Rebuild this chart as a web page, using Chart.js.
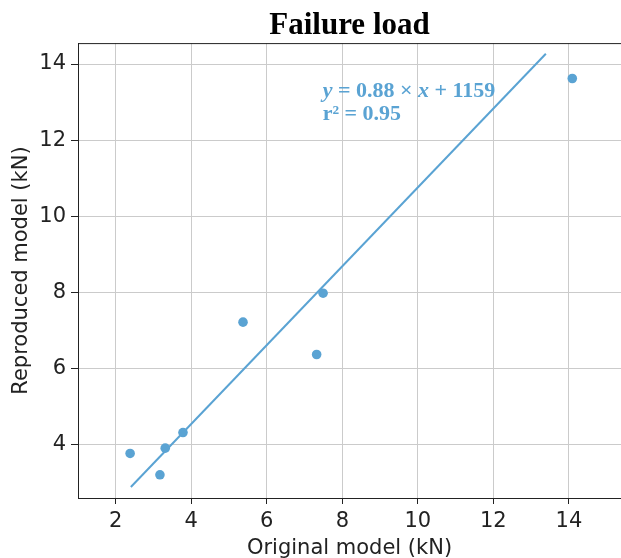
<!DOCTYPE html>
<html>
<head>
<meta charset="utf-8">
<script src="https://cdn.jsdelivr.net/npm/chart.js@4/dist/chart.umd.min.js"></script>
<style>
  html, body { margin: 0; padding: 0; background: #fff; }
  #wrap { width: 621px; height: 558px; }
</style>
</head>
<body>
<div id="wrap"><canvas id="myChart"></canvas></div>
<script>
// measured points (kN)
var originalModel = [2.38, 3.17, 3.31, 3.78, 5.37, 7.32, 7.49, 14.09];
var reproducedModel = [3.77, 3.21, 3.91, 4.32, 7.22, 6.37, 7.98, 13.62];

// fitted line end points
var fitX = [2.40, 13.39];
var fitY = [2.89, 14.27];

var xTicks = [2, 4, 6, 8, 10, 12, 14];
var yTicks = [4, 6, 8, 10, 12, 14];

var eqLine1 = [['y', 'italic'], [' = 0.88 × ', ''], ['x', 'italic'], [' + 1159', '']];
var eqLine2 = [['r² = 0.95', '']];

var blue = '#5aa3d3';

var scatterPoints = originalModel.map(function (x, i) { return { x: x, y: reproducedModel[i] }; });
var fitPoints = fitX.map(function (x, i) { return { x: x, y: fitY[i] }; });

// top edge of the frame (chart.js only draws the axis borders)
var framePlugin = {
    id: 'frame',
    afterDraw: function (chart) {
        var a = chart.chartArea, ctx = chart.ctx;
        ctx.save();
        ctx.strokeStyle = '#222';
        ctx.lineWidth = 1;
        ctx.beginPath();
        ctx.moveTo(a.left, a.top + 0.5);
        ctx.lineTo(a.right + 5, a.top + 0.5);
        ctx.stroke();
        ctx.restore();
    }
};

// regression text
var eqPlugin = {
    id: 'eq',
    afterDatasetsDraw: function (chart) {
        var ctx = chart.ctx;
        var sx = chart.scales.x, sy = chart.scales.y;
        var left = sx.getPixelForValue(7.48);
        function drawRuns(runs, baseY) {
            var px = left;
            runs.forEach(function (r) {
                ctx.font = (r[1] ? r[1] + ' ' : '') + 'bold 22px "Liberation Serif", serif';
                ctx.fillText(r[0], px, baseY);
                px += ctx.measureText(r[0]).width;
            });
        }
        ctx.save();
        ctx.fillStyle = blue;
        ctx.textBaseline = 'alphabetic';
        drawRuns(eqLine1, sy.getPixelForValue(13.13));
        drawRuns(eqLine2, sy.getPixelForValue(12.53));
        ctx.restore();
    }
};

var ctx = document.getElementById('myChart').getContext('2d');

var myChart = new Chart(ctx, {
    data: {
        datasets: [{
            type: 'line',
            data: fitPoints,
            borderColor: blue,
            borderWidth: 2,
            pointRadius: 0,
            fill: false
        }, {
            type: 'scatter',
            data: scatterPoints,
            backgroundColor: blue,
            borderColor: blue,
            pointRadius: 4.8,
            pointBorderWidth: 0
        }]
    },
    plugins: [framePlugin, eqPlugin],
    options: {
        responsive: true,
        maintainAspectRatio: false,
        animation: false,
        // the right side of the frame sits just past the canvas edge
        layout: { autoPadding: false, padding: { left: 0, right: -3, top: 0, bottom: 0 } },
        plugins: {
            legend: { display: false },
            tooltip: { enabled: false },
            title: {
                display: true,
                text: 'Failure load',
                fullSize: false,
                color: '#000',
                font: { family: '"Liberation Serif", serif', size: 31, weight: 'bold', lineHeight: 1.1 },
                padding: { top: 9, bottom: 0 }
            }
        },
        scales: {
            x: {
                type: 'linear',
                min: 1,
                max: 15.38,
                afterBuildTicks: function (axis) { axis.ticks = xTicks.map(function (v) { return { value: v }; }); },
                afterFit: function (axis) { axis.height = 60; },
                grid: { color: '#cbcbcb', lineWidth: 1, tickColor: '#222', tickLength: 6 },
                border: { display: true, color: '#222' },
                ticks: { color: '#222', padding: 5, font: { family: '"DejaVu Sans", sans-serif', size: 21 } },
                title: {
                    display: true,
                    text: 'Original model (kN)',
                    color: '#222',
                    font: { family: '"DejaVu Sans", sans-serif', size: 21, lineHeight: 1.0 },
                    padding: { top: 0, bottom: -1 }
                }
            },
            y: {
                type: 'linear',
                min: 2.6,
                max: 14.55,
                afterBuildTicks: function (axis) { axis.ticks = yTicks.map(function (v) { return { value: v }; }); },
                afterFit: function (axis) { axis.width = 78; },
                grid: { color: '#cbcbcb', lineWidth: 1, tickColor: '#222', tickLength: 7 },
                border: { display: true, color: '#222' },
                ticks: { color: '#222', padding: 5, font: { family: '"DejaVu Sans", sans-serif', size: 21 } },
                title: {
                    display: true,
                    text: 'Reproduced model (kN)',
                    color: '#222',
                    font: { family: '"DejaVu Sans", sans-serif', size: 21, lineHeight: 1.2 },
                    padding: { top: 9, bottom: 0 }
                }
            }
        }
    }
});
</script>
</body>
</html>
